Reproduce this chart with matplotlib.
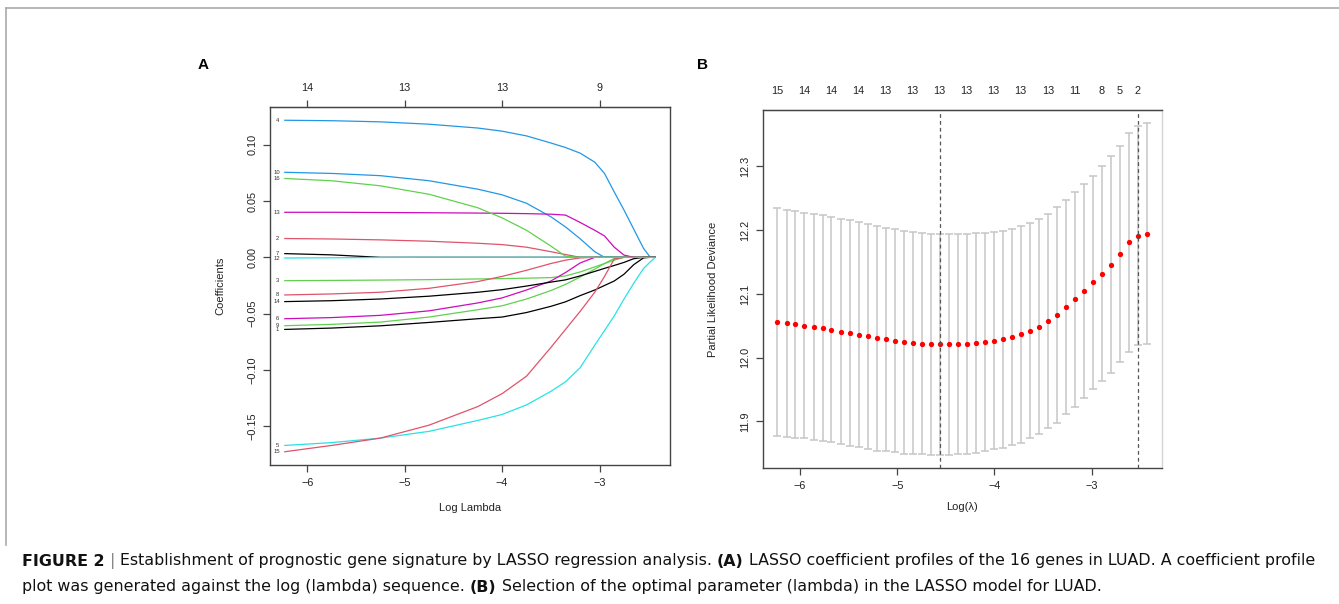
import matplotlib
matplotlib.use('Agg')
import matplotlib.pyplot as plt
from matplotlib.lines import Line2D

plt.rcParams['font.family'] = ['Liberation Sans', 'DejaVu Sans']

W, H = 1339, 604

# ---- panel A: LASSO coefficient paths ----
lam_a = [-6.23, -5.75, -5.25, -4.75, -4.25, -4.0, -3.75, -3.5, -3.35, -3.2,
         -3.05, -2.95, -2.85, -2.75, -2.65, -2.55, -2.48, -2.43]
gene_ids = [1, 2, 3, 4, 5, 6, 7, 8, 9, 10, 12, 13, 14, 15, 16]
c1 = [-0.064, -0.0628, -0.0608, -0.0578, -0.0545, -0.053, -0.049, -0.0435, -0.0395,
      -0.034, -0.029, -0.025, -0.021, -0.015, -0.0065, -0.0005, 0, 0]
c2 = [0.0167, 0.0163, 0.0155, 0.0143, 0.0125, 0.0113, 0.009, 0.005, 0.0025,
      0, 0, 0, 0, 0, 0, 0, 0, 0]
c3 = [-0.0207, -0.0205, -0.0202, -0.0198, -0.0192, -0.0189, -0.0185, -0.018, -0.0165,
      -0.013, -0.0085, -0.0055, -0.0025, 0, 0, 0, 0, 0]
c4 = [0.1217, 0.1213, 0.1203, 0.1182, 0.1148, 0.112, 0.1078, 0.1015, 0.0975,
      0.0925, 0.0845, 0.0745, 0.058, 0.042, 0.025, 0.008, 0, 0]
c5 = [-0.167, -0.1645, -0.1605, -0.1545, -0.1448, -0.1395, -0.131, -0.119, -0.1105,
      -0.098, -0.078, -0.065, -0.052, -0.037, -0.023, -0.010, -0.004, 0]
c6 = [-0.0545, -0.0535, -0.0515, -0.0475, -0.0405, -0.036, -0.029, -0.021, -0.0135,
      -0.005, 0, 0, 0, 0, 0, 0, 0, 0]
c7 = [0.0033, 0.0022, 0, 0, 0, 0, 0, 0, 0, 0, 0, 0, 0, 0, 0, 0, 0, 0]
c8 = [-0.0334, -0.0325, -0.031, -0.0275, -0.0215, -0.0169, -0.0115, -0.0055, -0.0025,
      -0.0005, 0, 0, 0, 0, 0, 0, 0, 0]
c9 = [-0.0607, -0.0595, -0.0575, -0.053, -0.0465, -0.043, -0.037, -0.0295, -0.024,
      -0.0175, -0.0105, -0.0055, -0.001, 0, 0, 0, 0, 0]
c10 = [0.0755, 0.0745, 0.0725, 0.068, 0.0605, 0.0555, 0.048, 0.036, 0.027,
       0.0165, 0.005, 0, 0, 0, 0, 0, 0, 0]
c12 = [-0.0006, -0.0004, -0.0001, 0, 0, 0, 0, 0, 0, 0, 0, 0, 0, 0, 0, 0, 0, 0]
c13 = [0.040, 0.040, 0.0398, 0.0396, 0.0393, 0.0391, 0.0388, 0.0383, 0.0375,
       0.031, 0.024, 0.019, 0.009, 0.002, 0, 0, 0, 0]
c14 = [-0.0393, -0.0385, -0.037, -0.0345, -0.031, -0.0287, -0.0255, -0.022, -0.020,
       -0.0165, -0.0125, -0.0098, -0.0072, -0.0045, -0.0012, 0, 0, 0]
c15 = [-0.1726, -0.167, -0.1605, -0.149, -0.1325, -0.121, -0.1055, -0.080, -0.064,
       -0.048, -0.031, -0.017, -0.0015, 0, 0, 0, 0, 0]
c16 = [0.070, 0.068, 0.0635, 0.056, 0.044, 0.035, 0.024, 0.010, 0.001,
       0, 0, 0, 0, 0, 0, 0, 0, 0]
coefs = [c1, c2, c3, c4, c5, c6, c7, c8, c9, c10, c12, c13, c14, c15, c16]
top_a_ticks = [-6, -5, -4, -3]
top_a_labels = ['14', '13', '13', '9']

# ---- panel B: cross-validation curve ----
log_lam = [-6.233, -6.140, -6.048, -5.955, -5.862, -5.769, -5.677, -5.584, -5.491, -5.398,
           -5.305, -5.213, -5.120, -5.027, -4.934, -4.842, -4.749, -4.656, -4.563, -4.471,
           -4.378, -4.285, -4.192, -4.100, -4.007, -3.914, -3.821, -3.729, -3.636, -3.543,
           -3.450, -3.357, -3.265, -3.172, -3.079, -2.986, -2.894, -2.801, -2.708, -2.615,
           -2.523, -2.430]
cvm = [12.0556, 12.0540, 12.0525, 12.0504, 12.0480, 12.0460, 12.0440, 12.0410, 12.0385, 12.0360,
       12.0332, 12.0306, 12.0285, 12.0264, 12.0243, 12.0228, 12.0217, 12.0212, 12.0207, 12.0207,
       12.0212, 12.0217, 12.0228, 12.0243, 12.0264, 12.0290, 12.0326, 12.0363, 12.0425, 12.0488,
       12.0577, 12.0670, 12.0790, 12.0915, 12.1045, 12.1180, 12.1320, 12.1460, 12.1625, 12.1807,
       12.1916, 12.1947]
cvsd = [0.179, 0.178, 0.178, 0.177, 0.1775, 0.1774, 0.177, 0.177, 0.177, 0.1765,
        0.1766, 0.1766, 0.1756, 0.175, 0.175, 0.1745, 0.1736, 0.1735, 0.1735, 0.173,
        0.1725, 0.1725, 0.172, 0.1715, 0.170, 0.170, 0.1694, 0.170, 0.168, 0.168,
        0.168, 0.169, 0.168, 0.169, 0.168, 0.167, 0.1685, 0.170, 0.170, 0.172,
        0.1724, 0.173]
nzero = [15, 15, 15, 14, 14, 14, 14, 14, 14, 14, 14, 14, 13, 13, 13, 13, 13, 13, 13, 13,
         13, 13, 13, 13, 13, 13, 13, 13, 13, 13, 13, 13, 13, 11, 10, 9, 8, 6, 5, 3,
         2, 2]
top_b_idx = [0, 3, 6, 9, 12, 15, 18, 21, 24, 27, 30, 33, 36, 38, 40]
i_min, i_1se = 18, 40

rpal = ['#000000', '#DF536B', '#61D04F', '#2297E6', '#28E2E5', '#CD0BBC']
axcol = '#444444'
tick_fs = 7.8

fig = plt.figure(figsize=(W / 100, H / 100), dpi=100)


def style_axes(ax):
    for s in ax.spines.values():
        s.set_color(axcol)
        s.set_linewidth(1.0)
    ax.tick_params(direction='out', length=5, width=0.9, color=axcol,
                   labelsize=tick_fs, labelcolor='#222222', pad=4)
    ax.tick_params(axis='y', labelrotation=90)
    for lab in ax.get_yticklabels():
        lab.set_va('center')


# panel A
axA = fig.add_axes([270 / W, 1 - 465 / H, 400 / W, 358 / H])
for i, (gid, vals) in enumerate(zip(gene_ids, coefs)):
    axA.plot(lam_a, vals, color=rpal[i % 6], lw=0.9)
    axA.annotate(str(gid), (lam_a[0], vals[0]), xytext=(-5.5, 0), textcoords='offset points',
                 fontsize=4.2, ha='center', va='center', color='#333333')
axA.margins(x=0.04, y=0.04)
axA.set_xticks([-6, -5, -4, -3])
axA.set_yticks([-0.15, -0.10, -0.05, 0.0, 0.05, 0.10])
axA.set_yticklabels(['\u22120.15', '\u22120.10', '\u22120.05', '0.00', '0.05', '0.10'])
style_axes(axA)
axA.set_xlabel('Log Lambda', fontsize=8, color='#222222', labelpad=11)
axA.set_ylabel('Coefficients', fontsize=8, color='#222222', labelpad=16)
secA = axA.secondary_xaxis('top')
secA.set_xticks(top_a_ticks, labels=top_a_labels)
secA.tick_params(direction='out', length=5, width=0.9, color=axcol,
                 labelsize=tick_fs, labelcolor='#222222', pad=5)
secA.spines['top'].set_color(axcol)

# panel B
axB = fig.add_axes([762.7 / W, 1 - 468.3 / H, 399 / W, 358.3 / H])
axB.errorbar(log_lam, cvm, yerr=cvsd, fmt='none', ecolor='#c6c6c6', elinewidth=1.1,
             capsize=3, capthick=1.1)
axB.plot(log_lam, cvm, 'o', color='#ff0000', ms=3.8, mec='none')
axB.axvline(log_lam[i_min], color='#555555', lw=0.9, ls=(0, (3, 2.5)))
axB.axvline(log_lam[i_1se], color='#555555', lw=0.9, ls=(0, (3, 2.5)))
axB.margins(x=0.04, y=0.04)
axB.set_xticks([-6, -5, -4, -3])
axB.set_yticks([11.9, 12.0, 12.1, 12.2, 12.3])
style_axes(axB)
axB.spines['right'].set_color('#d4d4d4')
axB.set_xlabel('Log(\u03bb)', fontsize=8, color='#222222', labelpad=8)
axB.set_ylabel('Partial Likelihood Deviance', fontsize=8, color='#222222', labelpad=16)
secB = axB.secondary_xaxis('top')
secB.set_xticks([log_lam[i] for i in top_b_idx], labels=[str(nzero[i]) for i in top_b_idx])
secB.tick_params(length=0, labelsize=tick_fs, labelcolor='#222222', pad=10)
secB.spines['top'].set_color(axcol)

# panel letters
fig.text(203 / W, 1 - 65 / H, 'A', fontsize=11, weight='bold', ha='center', va='center')
fig.text(702 / W, 1 - 65 / H, 'B', fontsize=11, weight='bold', ha='center', va='center')

# page frame
fig.add_artist(Line2D([6 / W, 1], [1 - 8 / H, 1 - 8 / H], color='#aaaaaa', lw=1.2))
fig.add_artist(Line2D([6 / W, 6 / W], [1 - 8 / H, 1 - 545 / H], color='#aaaaaa', lw=1.2))

# caption
cap_fs = 11.4
cap_fam = ['DejaVu Sans']
line1 = [('FIGURE 2', True, '#111111'), ('|', False, '#888888'),
         ('Establishment of prognostic gene signature by LASSO regression analysis.', False, '#111111'),
         ('(A)', True, '#111111'),
         ('LASSO coefficient profiles of the 16 genes in LUAD. A coefficient profile', False, '#111111')]
line2 = [('plot was generated against the log (lambda) sequence.', False, '#111111'),
         ('(B)', True, '#111111'),
         ('Selection of the optimal parameter (lambda) in the LASSO model for LUAD.', False, '#111111')]

renderer = fig.canvas.get_renderer()
gap = cap_fs * 100 / 72 * 0.32


def caption_line(pieces, x_px, y_px):
    x = x_px
    for txt, bold, col in pieces:
        t = fig.text(x / W, 1 - y_px / H, txt, fontsize=cap_fs, family=cap_fam,
                     weight='bold' if bold else 'normal', color=col, ha='left', va='center')
        bb = t.get_window_extent(renderer)
        x = bb.x1 + gap


caption_line(line1, 22, 561)
caption_line(line2, 22, 587)

fig.savefig('out.png', dpi=100)
